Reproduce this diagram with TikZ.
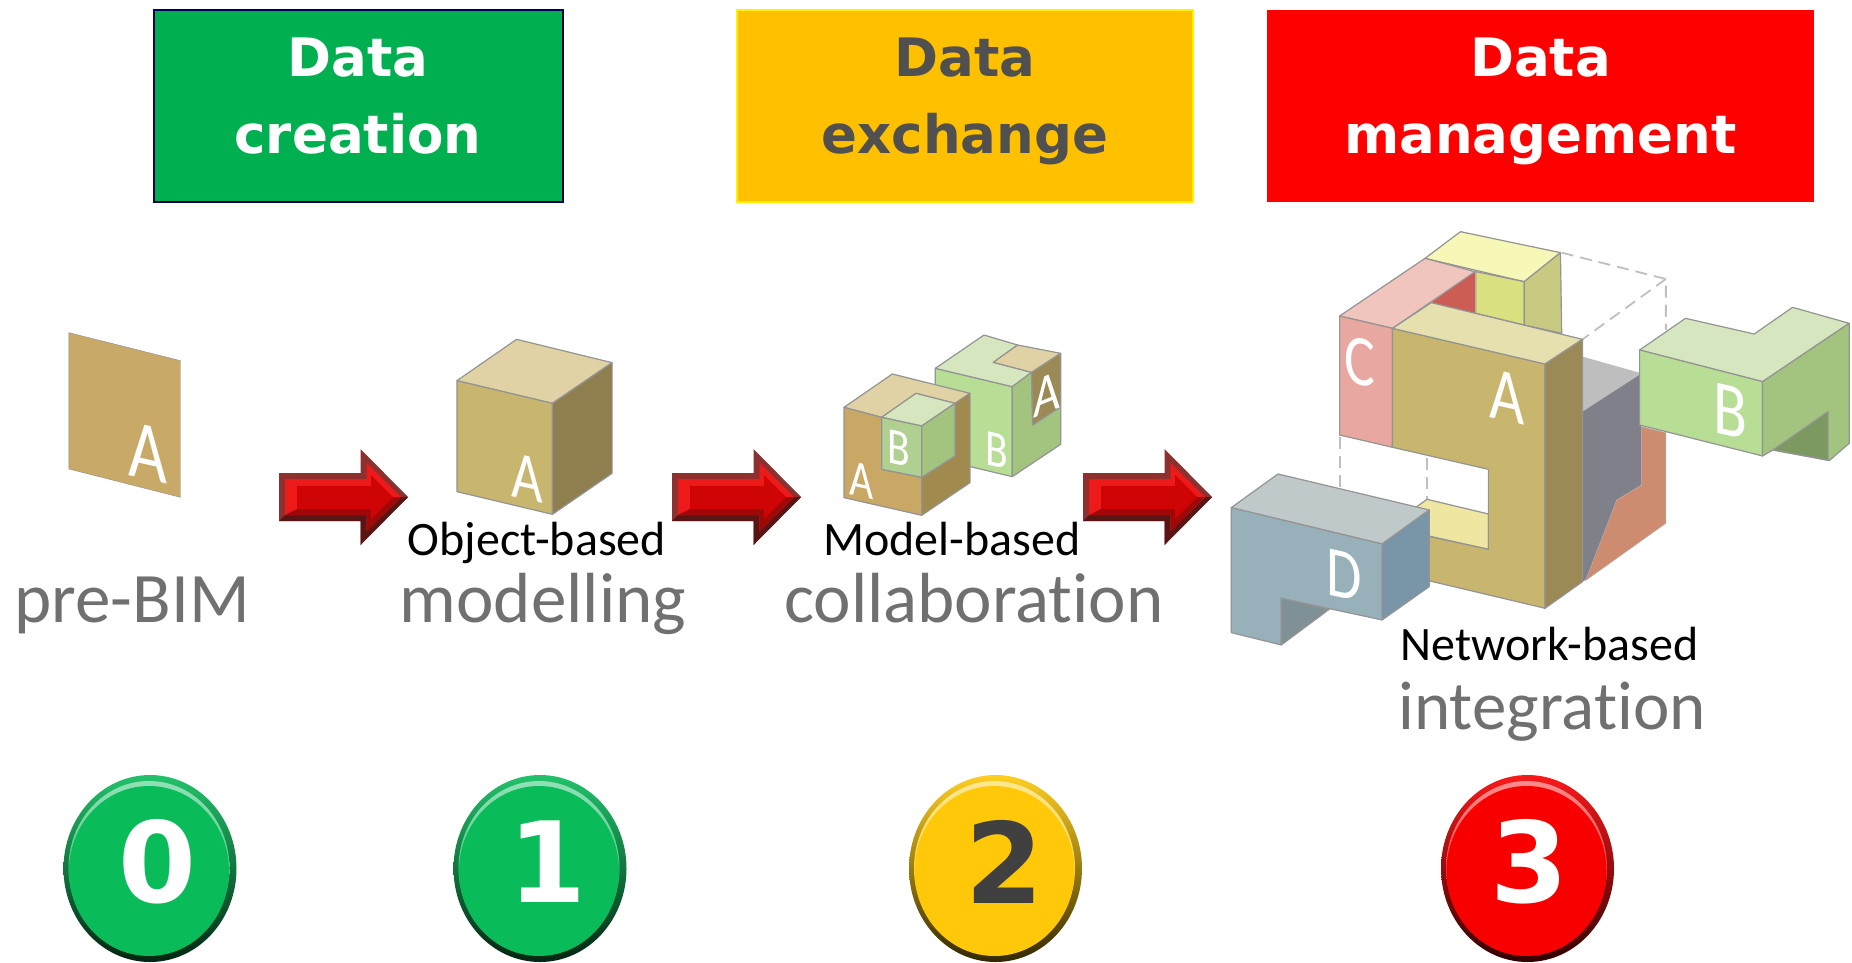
\documentclass[tikz,border=0pt]{standalone}
\usepackage{fontspec}
\setmainfont[Ligatures=NoCommon]{Carlito}
\newfontfamily\headfont{DejaVu Sans}
\definecolor{headgreen}{HTML}{00B050}
\definecolor{headorange}{HTML}{FFC000}
\definecolor{headred}{HTML}{FF0000}
\definecolor{headgrey}{HTML}{505050}
\definecolor{digitgrey}{HTML}{404040}
\definecolor{badgegreen}{HTML}{0ABB5A}
\definecolor{badgeyellow}{HTML}{FFC90A}
\definecolor{badgered}{HTML}{F80000}
\definecolor{sheettan}{HTML}{C8A968}
\definecolor{atop}{HTML}{E6DFAE}
\definecolor{afront}{HTML}{C8B66E}
\definecolor{aside}{HTML}{9B8A55}
\definecolor{tantop}{HTML}{E0D2A4}
\definecolor{tanfront}{HTML}{C9A866}
\definecolor{tanside}{HTML}{A08A4E}
\definecolor{btop}{HTML}{D6E6BE}
\definecolor{bfront}{HTML}{B7DE94}
\definecolor{bside}{HTML}{A2C47F}
\definecolor{bnotch}{HTML}{7C9A60}
\definecolor{ctop}{HTML}{F0C5BE}
\definecolor{cfront}{HTML}{E8A7A0}
\definecolor{cdark}{HTML}{CD5C55}
\definecolor{dtop}{HTML}{BFC9C9}
\definecolor{dfront}{HTML}{98B0B9}
\definecolor{dside}{HTML}{7896A8}
\definecolor{dnotch}{HTML}{7F9196}
\definecolor{ytop}{HTML}{F7F7B8}
\definecolor{yfront}{HTML}{D9E07F}
\definecolor{yside}{HTML}{C9CA82}
\definecolor{yfloor}{HTML}{EFE6A2}
\definecolor{gtop}{HTML}{BEBEBE}
\definecolor{gside}{HTML}{80808A}
\definecolor{salmon}{HTML}{CD8C70}
\definecolor{arrowrim}{HTML}{8C3030}
\definecolor{arrowrimdark}{HTML}{5A1414}
\definecolor{arrowbright}{HTML}{EE1A1A}
\definecolor{arrowlow}{HTML}{A00808}
\definecolor{arrowface}{HTML}{CF0404}
\tikzset{
  face/.style={draw=black!42, line width=1.2pt, line join=round},
  guide/.style={black!25, line width=1.8pt, dash pattern=on 12pt off 7pt},
  headbox/.style={minimum width=#1, minimum height=192, inner sep=0pt, line width=2pt},
  headtext/.style={font=\headfont\bfseries\fontsize{53}{77}\selectfont, align=center},
  smalltext/.style={font=\fontsize{48}{50}\selectfont, text=black, anchor=base},
  greytext/.style={font=\fontsize{71}{75}\selectfont, text=black!56, anchor=base},
  letterleft/.style={text=white, transform shape, yslant=-.22, xscale=.8, font=\fontsize{#1}{#1}\selectfont},
  letterright/.style={text=white, transform shape, yslant=.4, xscale=.8, font=\fontsize{#1}{#1}\selectfont},
  digit/.style={font=\headfont\bfseries\fontsize{112}{112}\selectfont}
}
\begin{document}
\begin{tikzpicture}[x=1pt, y=-1pt]
  \useasboundingbox (0,0) rectangle (1852,962);
  % headers
  \node[headbox=409, fill=headgreen, draw=blue!35!black] (boxcreation) at (358,106) {};
  \node[headbox=456, fill=headorange, draw=yellow] (boxexchange) at (965,106) {};
  \node[headbox=547, fill=headred] (boxmanagement) at (1540.5,106) {};
  \node[headtext, text=white] (txtcreation) at (358,101) {Data\\creation\vphantom{g}};
  \node[headtext, text=headgrey] (txtexchange) at (965,101) {Data\\exchange};
  \node[headtext, text=white] (txtmanagement) at (1540.5,101) {Data\\management};
  % pre-BIM sheet and single block
  \begin{scope}[shift={(0,310)}, xscale=.4592, yscale=.3333]
    \fill[sheettan, draw=black!45] (150,68) -- (393,152) -- (393,562) -- (150,477) -- cycle;
    \path[face, fill=tantop] (995,212) -- (1125,88) -- (1333,158) -- (1203,280) -- cycle;
    \path[face, fill=afront] (995,212) -- (1203,280) -- (1203,613) -- (995,545) -- cycle;
    \path[face, fill=aside!92!black] (1203,280) -- (1333,158) -- (1333,490) -- (1203,613) -- cycle;
  \end{scope}
  % two blocks
  \begin{scope}[shift={(780,310)}, scale=.3333]
    \path[face, fill=bfront] (466,175) -- (697,230) -- (697,500) -- (466,445) -- cycle;
    \path[face, fill=btop] (466,175) -- (612,75) -- (713,105) -- (640,157) -- (755,187) -- (697,230) -- cycle;
    \path[face, fill=tantop] (640,157) -- (713,105) -- (842,130) -- (755,187) -- cycle;
    \path[face, fill=bside] (697,230) -- (755,187) -- (758,345) -- (842,290) -- (842,403) -- (697,500) -- cycle;
    \path[face, fill=aside] (755,187) -- (842,130) -- (842,290) -- (758,345) -- cycle;
    \path[face, fill=tantop] (192,292) -- (337,192) -- (570,250) -- (525,280) -- (408,250) -- (305,322) -- cycle;
    \path[face, fill=tanfront] (192,292) -- (305,322) -- (305,478) -- (425,502) -- (425,616) -- (192,563) -- cycle;
    \path[face, fill=tanside] (425,502) -- (525,438) -- (525,280) -- (570,250) -- (570,518) -- (425,616) -- cycle;
    \path[face, fill=btop] (305,322) -- (408,250) -- (525,280) -- (425,348) -- cycle;
    \path[face, fill=bfront!85!gray] (305,322) -- (425,348) -- (425,502) -- (305,478) -- cycle;
    \path[face, fill=bside] (425,348) -- (525,280) -- (525,438) -- (425,502) -- cycle;
  \end{scope}
  % integrated blocks
  \begin{scope}[shift={(1200,210)}, xscale=.4167, yscale=.3333]
    \draw[guide] (868,128) -- (1118,207) -- (1118,360);
    \draw[guide] (1118,207) -- (918,388);
    \draw[guide] (335,680) -- (335,835);
    \draw[guide] (545,745) -- (545,870);
    \path[face, fill=ytop] (540,145) -- (625,65) -- (865,128) -- (778,215) -- cycle;
    \path[face, fill=yfront] (662,185) -- (778,215) -- (778,345) -- (662,310) -- cycle;
    \path[face, fill=yside] (778,215) -- (865,128) -- (868,370) -- (778,345) -- cycle;
    \fill[cdark] (555,277) -- (660,185) -- (660,310) -- cycle;
    \path[face, fill=ctop] (335,318) -- (540,145) -- (660,185) -- (462,355) -- cycle;
    \path[face, fill=cfront] (335,318) -- (462,355) -- (462,712) -- (335,675) -- cycle;
    \fill[gtop] (918,440) -- (1060,490) -- (918,605) -- cycle;
    \fill[gside] (918,605) -- (1060,490) -- (1060,825) -- (1000,870) -- (930,1105) -- (918,1115) -- cycle;
    \fill[salmon, draw=black!30] (1060,650) -- (1118,668) -- (1118,940) -- (925,1112) -- (1000,870) -- (1060,825) -- cycle;
    \path[face, fill=yfloor] (520,890) -- (545,868) -- (692,912) -- (692,1018) -- (520,970) -- cycle;
    \path[face, fill=afront] (462,355) -- (828,462) -- (828,1195) -- (440,1080) -- (440,950) -- (692,1018) -- (692,778) -- (462,712) -- cycle;
    \path[face, fill=atop] (462,355) -- (555,278) -- (918,388) -- (828,462) -- cycle;
    \path[face, fill=aside] (828,462) -- (918,388) -- (918,1115) -- (828,1195) -- cycle;
    \path[face, fill=dtop] (75,893) -- (187,792) -- (550,900) -- (437,1002) -- cycle;
    \path[face, fill=dfront] (75,893) -- (437,1002) -- (437,1230) -- (195,1165) -- (195,1305) -- (75,1268) -- cycle;
    \path[face, fill=dside] (437,1002) -- (550,900) -- (550,1130) -- (437,1230) -- cycle;
    \path[face, fill=dnotch] (195,1165) -- (310,1198) -- (195,1305) -- cycle;
    \path[face, fill=btop] (1055,420) -- (1165,325) -- (1330,372) -- (1422,292) -- (1558,340) -- (1350,515) -- cycle;
    \path[face, fill=bfront] (1055,420) -- (1350,515) -- (1350,738) -- (1055,645) -- cycle;
    \path[face, fill=bside] (1350,515) -- (1558,340) -- (1558,700) -- (1510,752) -- (1375,720) -- (1350,738) -- cycle;
    \path[face, fill=bnotch] (1375,720) -- (1507,605) -- (1507,750) -- cycle;
  \end{scope}
  % letters on the faces
  \node[letterleft=84] (lettersheet) at (148,453) {A};
  \node[letterleft=68] (letterone) at (527,478) {A};
  \node[letterleft=52] (lettertwoa) at (862,480) {A};
  \node[letterleft=52] (lettertwob) at (899,448) {B};
  \node[letterleft=52] (lettertwoc) at (997,450) {B};
  \node[letterright=58] (lettertwod) at (1047,395) {A};
  \node[letterleft=72] (letterC) at (1360,362) {C};
  \node[letterleft=76] (letterA) at (1507,397) {A};
  \node[letterleft=78] (letterB) at (1730,411) {B};
  \node[letterleft=72] (letterD) at (1344,575) {D};
  % arrows
  \foreach \ax in {279,672,1083} {
    \begin{scope}[shift={(\ax,0)}]
      \fill[arrowrim] (0,473) -- (81.5,473) -- (81.5,449) -- (129,497) -- (81.5,545) -- (81.5,521) -- (0,521) -- cycle;
      \fill[arrowrimdark] (0,521) -- (81.5,521) -- (81.5,545) -- (129,497) -- (122,497) -- (87.5,531) -- (87.5,515) -- (6,515) -- cycle;
      \fill[arrowbright] (6,479) -- (87.5,479) -- (87.5,463) -- (122,497) -- (87.5,531) -- (87.5,515) -- (6,515) -- cycle;
      \fill[arrowlow] (6,515) -- (87.5,515) -- (87.5,531) -- (122,497) -- (110,497) -- (92,515) -- (92,509) -- (18,509) -- cycle;
      \fill[arrowface] (18,486) -- (92,486) -- (92,475) -- (114,497) -- (92,519) -- (92,509) -- (18,509) -- cycle;
    \end{scope}
  }
  % captions
  \node[greytext] (prebim) at (132,622) {pre-BIM};
  \node[smalltext] (objectbased) at (537,555) {Object-based};
  \node[greytext] (modelling) at (543,622) {modelling};
  \node[smalltext] (modelbased) at (952,555) {Model-based};
  \node[greytext] (collaboration) at (974,622) {collaboration};
  \node[smalltext] (networkbased) at (1549.5,660) {Network-based};
  \node[greytext, font=\fontsize{69}{75}\selectfont] (integration) at (1552,729) {integration};
  % badges
  \foreach \bx/\bc/\dx/\dc/\dt in {150/badgegreen/157/white/0, 540/badgegreen/547/white/1, 995.5/badgeyellow/1004/digitgrey/2, 1527.5/badgered/1529/white/3} {
    \shade[shading angle=40, top color=\bc!90!white, middle color=\bc, bottom color=\bc!20!black] (\bx,868.5) ellipse (86.5 and 93.5);
    \shade[shading angle=30, top color=\bc!45!white, bottom color=\bc] (\bx-1,868) ellipse (80.5 and 87);
    \fill[\bc] (\bx-1,871) ellipse (80 and 85);
    \node[digit, text=\dc] (badge\dt) at (\dx,862) {\dt};
  }
\end{tikzpicture}
\end{document}
